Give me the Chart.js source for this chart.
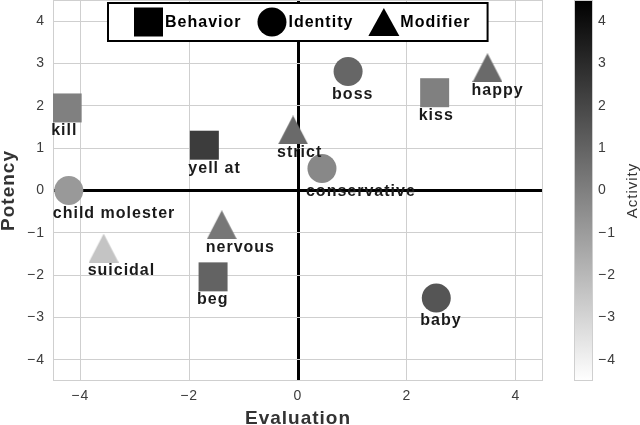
<!DOCTYPE html>
<html>
<head>
<meta charset="utf-8">
<script src="https://cdn.jsdelivr.net/npm/chart.js@4.4.1/dist/chart.umd.min.js"></script>
<style>
html, body { margin: 0; padding: 0; background: #fff; }
#wrap { width: 640px; height: 425px; }
</style>
</head>
<body>
<div id="wrap"><canvas id="chart" width="640" height="425"></canvas></div>
<script>
// Legend order
const categories = ["Behavior", "Identity", "Modifier"];

// Behavior (squares)
const behaviorLabels = ["kill", "yell at", "beg", "kiss"];
const behaviorEval = [-4.24, -1.72, -1.56, 2.51];
const behaviorPot = [1.95, 1.07, -2.04, 2.31];
const behaviorAct = [0.0, 2.4, 1.0, 0.0];

// Identity (circles)
const identityLabels = ["child molester", "conservative", "boss", "baby"];
const identityEval = [-4.21, 0.44, 0.92, 2.54];
const identityPot = [0.0, 0.52, 2.81, -2.54];
const identityAct = [-0.9, -0.3, 0.9, 1.5];

// Modifier (triangles)
const modifierLabels = ["suicidal", "nervous", "strict", "happy"];
const modifierEval = [-3.57, -1.40, -0.09, 3.48];
const modifierPot = [-1.36, -0.81, 1.43, 2.90];
const modifierAct = [-2.4, 0.3, 0.75, 0.75];

// Ticks
const xTicks = [-4, -2, 0, 2, 4];
const yTicks = [-4, -3, -2, -1, 0, 1, 2, 3, 4];
const activityTicks = [-4, -3, -2, -1, 0, 1, 2, 3, 4];

const FONT = '"Liberation Sans", Arial, Helvetica, sans-serif';
const ACT_MIN = -4.5, ACT_MAX = 4.5;

// gray_r style mapping: high activity = black
function grey(v) {
    let t = (ACT_MAX - v) / (ACT_MAX - ACT_MIN);
    t = Math.max(0, Math.min(1, t));
    const g = Math.round(255 * t);
    return `rgb(${g},${g},${g})`;
}

function toPoints(xs, ys) {
    return xs.map((x, i) => ({ x: x, y: ys[i] }));
}

function triangleStyle(color) {
    const c = document.createElement("canvas");
    c.width = 30;
    c.height = 29;
    const t = c.getContext("2d");
    t.fillStyle = color;
    t.beginPath();
    t.moveTo(15, 0);
    t.lineTo(30, 29);
    t.lineTo(0, 29);
    t.closePath();
    t.fill();
    return c;
}

function fmtTick(v) {
    return v < 0 ? "\u2212" + Math.abs(v) : String(v);
}

function useTicks(list) {
    return scale => { scale.ticks = list.map(v => ({ value: v })); };
}

// fixed axis sizes, no extra label padding around the plot
const noPad = () => ({ left: 0, top: 0, right: 0, bottom: 0 });
function fixSize(w, h) {
    return s => {
        if (w !== null) s.width = w;
        if (h !== null) s.height = h;
        s.paddingTop = 0;
        s.paddingBottom = 0;
        s.paddingLeft = 0;
        s.paddingRight = 0;
        s.getPadding = noPad;
        if (s._margins) {
            s._margins.top = 0;
            s._margins.bottom = 0;
        }
    };
}

const pointLabels = [behaviorLabels, identityLabels, modifierLabels];

// Frame, colorbar, point labels, legend
const decor = {
    id: "decor",
    beforeLayout(chart) { chart.ctx.letterSpacing = "1px"; },
    beforeDraw(chart) { chart.ctx.letterSpacing = "1px"; },
    beforeDatasetsDraw(chart) {
        const { ctx, chartArea: a, scales } = chart;
        ctx.save();
        ctx.strokeStyle = "#cfcfcf";
        ctx.lineWidth = 1;
        ctx.strokeRect(a.left + 0.5, a.top + 0.5, a.width - 1, a.height - 1);

        // colorbar
        const cb = scales.cb;
        const top = cb.getPixelForValue(cb.max);
        const bot = cb.getPixelForValue(cb.min);
        const left = a.right + 31, w = 19;
        const g = ctx.createLinearGradient(0, top, 0, bot);
        g.addColorStop(0, grey(cb.max));
        g.addColorStop(1, grey(cb.min));
        ctx.fillStyle = g;
        ctx.fillRect(left, top, w, bot - top);
        ctx.strokeRect(left + 0.5, top + 0.5, w - 1, bot - top - 1);
        ctx.restore();
    },
    afterDatasetsDraw(chart) {
        const { ctx } = chart;
        ctx.save();
        ctx.letterSpacing = "1px";
        ctx.font = "bold 16px " + FONT;
        ctx.fillStyle = "#1a1a1a";
        ctx.textAlign = "left";
        ctx.textBaseline = "middle";
        chart.data.datasets.forEach((ds, i) => {
            chart.getDatasetMeta(i).data.forEach((el, j) => {
                ctx.fillText(pointLabels[i][j], el.x - 16, el.y + 23);
            });
        });
        ctx.restore();
    },
    afterDraw(chart) {
        const { ctx, chartArea: a, scales } = chart;
        ctx.save();
        ctx.letterSpacing = "1px";

        // legend box
        ctx.font = "bold 16px " + FONT;
        const padL = 26, padR = 17, mark = 29, markGap = 2, itemGap = 16;
        const widths = categories.map(c => ctx.measureText(c).width);
        let total = padL + padR + itemGap * (categories.length - 1);
        widths.forEach(tw => { total += mark + markGap + tw; });
        const cx = (a.left + a.right) / 2;
        const bx = Math.round(cx - total / 2);
        const by = a.top + 3, bh = 38;
        ctx.fillStyle = "#fff";
        ctx.fillRect(bx, by, total, bh);
        ctx.strokeStyle = "#000";
        ctx.lineWidth = 2;
        ctx.strokeRect(bx, by, total, bh);

        const my = by + bh / 2;
        let x = bx + padL;
        categories.forEach((c, i) => {
            ctx.fillStyle = "#000";
            ctx.beginPath();
            if (i === 0) {
                ctx.rect(x, my - mark / 2, mark, mark);
            } else if (i === 1) {
                ctx.arc(x + mark / 2, my, mark / 2, 0, Math.PI * 2);
            } else {
                ctx.moveTo(x + mark / 2, my - 14);
                ctx.lineTo(x + mark + 1, my + 14);
                ctx.lineTo(x - 1, my + 14);
                ctx.closePath();
            }
            ctx.fill();
            ctx.textAlign = "left";
            ctx.textBaseline = "middle";
            ctx.fillText(c, x + mark + markGap, my + 1);
            x += mark + markGap + widths[i] + itemGap;
        });

        // colorbar title
        const cb = scales.cb;
        const midY = (cb.getPixelForValue(cb.max) + cb.getPixelForValue(cb.min)) / 2;
        ctx.translate(633, midY);
        ctx.rotate(-Math.PI / 2);
        ctx.font = "15px " + FONT;
        ctx.fillStyle = "#333";
        ctx.textAlign = "center";
        ctx.textBaseline = "middle";
        ctx.fillText("Activity", 0, 0);
        ctx.restore();
    }
};

const zeroColor = c => (c.tick && c.tick.value === 0 ? "#000" : "#cfcfcf");
const zeroWidth = c => (c.tick && c.tick.value === 0 ? 3 : 1);

const tickFont = { family: FONT, size: 14 };
const titleFont = { family: FONT, size: 19, weight: "bold" };

new Chart(document.getElementById("chart"), {
    type: "scatter",
    data: {
        datasets: [
            {
                label: categories[0],
                data: toPoints(behaviorEval, behaviorPot),
                pointStyle: "rect",
                pointRadius: 20.5,
                pointBorderWidth: 0,
                backgroundColor: behaviorAct.map(grey)
            },
            {
                label: categories[1],
                data: toPoints(identityEval, identityPot),
                pointStyle: "circle",
                pointRadius: 14.5,
                pointBorderWidth: 0,
                backgroundColor: identityAct.map(grey)
            },
            {
                label: categories[2],
                data: toPoints(modifierEval, modifierPot),
                pointStyle: modifierAct.map(v => triangleStyle(grey(v))),
                pointRadius: 15,
                pointBorderWidth: 0,
                backgroundColor: modifierAct.map(grey)
            }
        ]
    },
    options: {
        responsive: false,
        animation: false,
        layout: { padding: 0, autoPadding: false },
        plugins: {
            legend: { display: false },
            tooltip: { enabled: false }
        },
        scales: {
            x: {
                type: "linear",
                min: -4.5,
                max: 4.5,
                afterBuildTicks: useTicks(xTicks),
                afterFit: fixSize(null, 44),
                grid: { color: zeroColor, lineWidth: zeroWidth, drawTicks: false },
                border: { display: false },
                ticks: { padding: 7, color: "#3c3c3c", font: tickFont, callback: fmtTick },
                title: { display: true, text: "Evaluation", color: "#333", font: titleFont, padding: { top: 0, bottom: -5 } }
            },
            y: {
                type: "linear",
                min: -4.5,
                max: 4.5,
                afterBuildTicks: useTicks(yTicks),
                afterFit: fixSize(53, null),
                grid: { color: zeroColor, lineWidth: zeroWidth, drawTicks: false },
                border: { display: false },
                ticks: { padding: 8, color: "#3c3c3c", font: tickFont, callback: fmtTick },
                title: { display: true, text: "Potency", color: "#333", font: titleFont, padding: { top: -3, bottom: 0 } }
            },
            cb: {
                type: "linear",
                position: "right",
                min: ACT_MIN,
                max: ACT_MAX,
                afterBuildTicks: useTicks(activityTicks),
                afterFit: fixSize(97, null),
                grid: { display: false, drawTicks: false },
                border: { display: false },
                ticks: { padding: 55, color: "#3c3c3c", font: tickFont, callback: fmtTick }
            }
        }
    },
    plugins: [decor]
});
</script>
</body>
</html>
